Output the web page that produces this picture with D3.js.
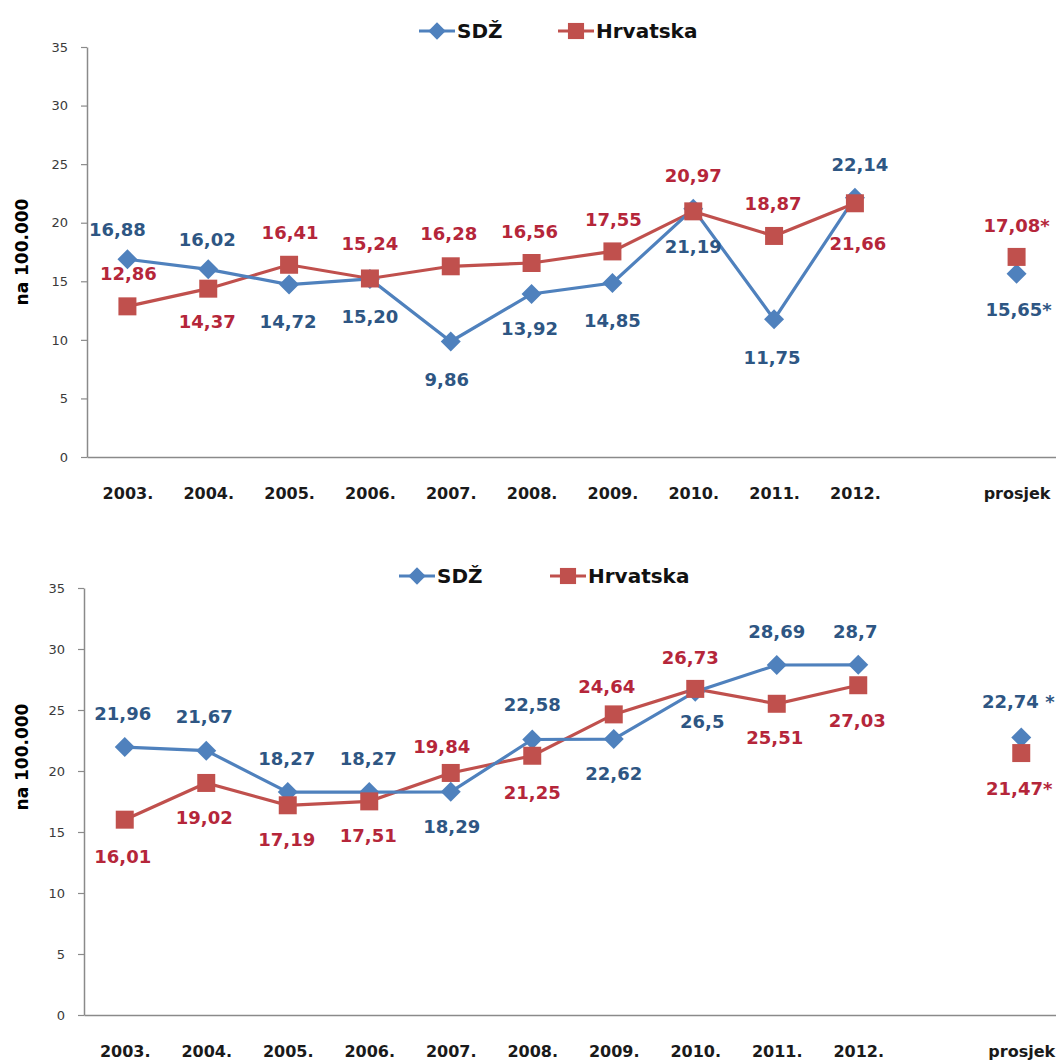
<!DOCTYPE html>
<html><head><meta charset="utf-8">
<script src="https://cdn.jsdelivr.net/npm/d3@7"></script>
<style>body{margin:0;background:#fff}</style>
</head><body>
<svg id="c" width="1056" height="1063"></svg>
<script>
// ---------- DATA ----------
const categories = ["2003.","2004.","2005.","2006.","2007.","2008.","2009.","2010.","2011.","2012."," ","prosjek"];
const avgCategory = "prosjek";
const yTicks = [0,5,10,15,20,25,30,35];
const seriesNames = ["SDŽ","Hrvatska"];
const yTitle = "na 100.000";

// Chart 1
const sdz1 = [16.88,16.02,14.72,15.20,9.86,13.92,14.85,21.19,11.75,22.14];
const hr1  = [12.86,14.37,16.41,15.24,16.28,16.56,17.55,20.97,18.87,21.66];
const sdz1Avg = 15.65;
const hr1Avg  = 17.08;
const sdz1Labels = ["16,88","16,02","14,72","15,20","9,86","13,92","14,85","21,19","11,75","22,14","15,65*"];
const hr1Labels  = ["12,86","14,37","16,41","15,24","16,28","16,56","17,55","20,97","18,87","21,66","17,08*"];

// Chart 2
const sdz2 = [21.96,21.67,18.27,18.27,18.29,22.58,22.62,26.5,28.69,28.7];
const hr2  = [16.01,19.02,17.19,17.51,19.84,21.25,24.64,26.73,25.51,27.03];
const sdz2Avg = 22.74;
const hr2Avg  = 21.47;
const sdz2Labels = ["21,96","21,67","18,27","18,27","18,29","22,58","22,62","26,5","28,69","28,7","22,74 *"];
const hr2Labels  = ["16,01","19,02","17,19","17,51","19,84","21,25","24,64","26,73","25,51","27,03","21,47*"];

// ---------- LAYOUT (label offsets in px, relative to markers) ----------
const sdz1Off = [[-10,-30],[-1,-30],[-1,37],[0,38],[-4,38],[-2,35],[0,37],[0,38],[-2,38],[5,-33],[2,36]];
const hr1Off  = [[1,-33],[-1,33],[1,-32],[0,-35],[-2,-33],[-2,-31],[1,-32],[0,-36],[-1,-32],[3,40],[0,-31]];
const sdz2Off = [[-2,-34],[-2,-34],[-1,-34],[-1,-34],[1,35],[0,-35],[0,34],[7,30],[0,-33],[-3,-33],[-3,-36]];
const hr2Off  = [[-2,37],[-2,35],[-1,34],[-1,34],[-9,-26],[0,37],[-7,-28],[-5,-31],[-2,34],[-1,35],[-2,35]];

const BLUE = "#4F81BD", RED = "#C0504D";
const BLUE_TXT = "#2E5683", RED_TXT = "#B5263A";
const FONT = "'DejaVu Sans', sans-serif";

const svg = d3.select("#c");
svg.append("rect").attr("width",1056).attr("height",1063).attr("fill","#fff");

function drawChart(o) {
  const g = svg.append("g");
  const x = d3.scalePoint().domain(categories).range([o.x0, o.x1]).padding(0.5);
  const y = d3.scaleLinear().domain([0,35]).range([o.yBottom, o.yTop]);
  const years = categories.slice(0, o.sdz.length);

  // y axis
  const ya = g.append("g").attr("transform", `translate(${o.x0},0)`)
    .call(d3.axisLeft(y).tickValues(yTicks).tickSize(6).tickSizeOuter(0).tickPadding(13));
  ya.select(".domain").attr("stroke","#8a8a8a").attr("stroke-width",1.5);
  ya.selectAll(".tick line").attr("stroke","#8a8a8a").attr("stroke-width",1.2);
  ya.selectAll(".tick text").attr("font-family",FONT).attr("font-size",13).attr("fill","#3a3a3a");

  // x axis
  const xa = g.append("g").attr("transform", `translate(0,${o.yBottom})`)
    .call(d3.axisBottom(x).tickSize(0).tickSizeOuter(0).tickPadding(31));
  xa.select(".domain").attr("stroke","#8a8a8a").attr("stroke-width",1.5);
  xa.selectAll(".tick text").attr("font-family",FONT).attr("font-size",16)
    .attr("font-weight","bold").attr("fill","#1a1a1a");

  // y title
  g.append("text").attr("transform", `translate(${o.titleX},${o.titleY}) rotate(-90)`)
    .attr("text-anchor","middle").attr("dy","0.35em")
    .attr("font-family",FONT).attr("font-size",17).attr("font-weight","bold").attr("fill","#000")
    .text(yTitle);

  const line = d3.line().x((d,i)=>x(years[i])).y(d=>y(d));
  g.append("path").datum(o.hr).attr("d",line).attr("fill","none").attr("stroke",RED).attr("stroke-width",3.2);
  g.append("path").datum(o.sdz).attr("d",line).attr("fill","none").attr("stroke",BLUE).attr("stroke-width",3.2);

  const diamond = d3.symbol(d3.symbolSquare, 200);
  const square = d3.symbol(d3.symbolSquare, 324);
  const sdzPts = o.sdz.map((v,i)=>({c:years[i],v})).concat([{c:avgCategory,v:o.sdzAvg}]);
  const hrPts = o.hr.map((v,i)=>({c:years[i],v})).concat([{c:avgCategory,v:o.hrAvg}]);

  g.selectAll(null).data(sdzPts).enter().append("path")
    .attr("d",diamond).attr("fill",BLUE)
    .attr("transform",d=>`translate(${x(d.c)},${y(d.v)}) rotate(45)`);
  g.selectAll(null).data(hrPts).enter().append("path")
    .attr("d",square).attr("fill",RED)
    .attr("transform",d=>`translate(${x(d.c)},${y(d.v)})`);

  // labels
  g.selectAll(null).data(sdzPts).enter().append("text")
    .attr("x",(d,i)=>x(d.c)+o.sdzOff[i][0]).attr("y",(d,i)=>y(d.v)+o.sdzOff[i][1])
    .attr("dy","0.36em").attr("text-anchor","middle")
    .attr("font-family",FONT).attr("font-size",18).attr("font-weight","bold").attr("fill",BLUE_TXT)
    .text((d,i)=>o.sdzLabels[i]);
  g.selectAll(null).data(hrPts).enter().append("text")
    .attr("x",(d,i)=>x(d.c)+o.hrOff[i][0]).attr("y",(d,i)=>y(d.v)+o.hrOff[i][1])
    .attr("dy","0.36em").attr("text-anchor","middle")
    .attr("font-family",FONT).attr("font-size",18).attr("font-weight","bold").attr("fill",RED_TXT)
    .text((d,i)=>o.hrLabels[i]);

  // legend
  const lg = g.append("g");
  const lx1 = o.legendX[0], lx2 = o.legendX[1], ly = o.legendY;
  lg.append("line").attr("x1",lx1-18).attr("x2",lx1+18).attr("y1",ly).attr("y2",ly).attr("stroke",BLUE).attr("stroke-width",3);
  lg.append("path").attr("d",d3.symbol(d3.symbolSquare,150)).attr("fill",BLUE).attr("transform",`translate(${lx1},${ly}) rotate(45)`);
  lg.append("text").attr("x",lx1+20).attr("y",ly).attr("dy","0.36em")
    .attr("font-family",FONT).attr("font-size",20).attr("font-weight","bold").attr("fill","#111").text(seriesNames[0]);
  lg.append("line").attr("x1",lx2-18).attr("x2",lx2+18).attr("y1",ly).attr("y2",ly).attr("stroke",RED).attr("stroke-width",3);
  lg.append("path").attr("d",d3.symbol(d3.symbolSquare,260)).attr("fill",RED).attr("transform",`translate(${lx2},${ly})`);
  lg.append("text").attr("x",lx2+20).attr("y",ly).attr("dy","0.36em")
    .attr("font-family",FONT).attr("font-size",20).attr("font-weight","bold").attr("fill","#111").text(seriesNames[1]);
}

drawChart({x0:87, x1:1057, yTop:47, yBottom:457, titleX:22, titleY:252,
  legendX:[437,576], legendY:31,
  sdz:sdz1, hr:hr1, sdzAvg:sdz1Avg, hrAvg:hr1Avg,
  sdzLabels:sdz1Labels, hrLabels:hr1Labels, sdzOff:sdz1Off, hrOff:hr1Off});

drawChart({x0:84, x1:1062, yTop:588, yBottom:1015, titleX:22, titleY:757,
  legendX:[417,568], legendY:576,
  sdz:sdz2, hr:hr2, sdzAvg:sdz2Avg, hrAvg:hr2Avg,
  sdzLabels:sdz2Labels, hrLabels:hr2Labels, sdzOff:sdz2Off, hrOff:hr2Off});
</script>
</body></html>
